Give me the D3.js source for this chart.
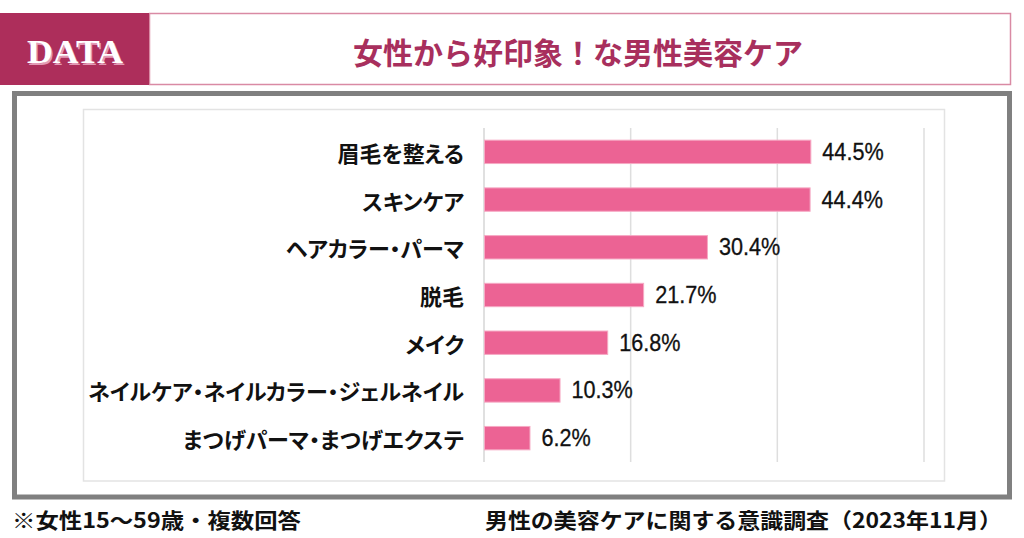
<!DOCTYPE html>
<html>
<head>
<meta charset="utf-8">
<script src="https://cdn.jsdelivr.net/npm/d3@7"></script>
<style>
  body { margin: 0; background: #fff; }
  svg { display: block; }
</style>
</head>
<body>
<script>
const categories = [
  '眉毛を整える',
  'スキンケア',
  'ヘアカラー・パーマ',
  '脱毛',
  'メイク',
  'ネイルケア・ネイルカラー・ジェルネイル',
  'まつげパーマ・まつげエクステ'
];
const values = [44.5, 44.4, 30.4, 21.7, 16.8, 10.3, 6.2];
const gridTicks = [0, 20, 40, 60];

const titleText = '女性から好印象！な男性美容ケア';
const noteText = '※女性15～59歳・複数回答';
const sourceText = '男性の美容ケアに関する意識調査（2023年11月）';

const jp = '"Noto Sans CJK JP", "Noto Sans", sans-serif';

const svg = d3.select('body').append('svg')
  .attr('width', 1024)
  .attr('height', 538);

// header
svg.append('rect')
  .attr('x', 149.5).attr('y', 13.5)
  .attr('width', 861).attr('height', 71)
  .attr('fill', '#fff')
  .attr('stroke', '#d98aa4')
  .attr('stroke-width', 1.5);

svg.append('rect')
  .attr('x', 0).attr('y', 13)
  .attr('width', 149).attr('height', 72)
  .attr('fill', '#ad2e5b');

svg.append('text')
  .text('DATA')
  .attr('x', 28.5).attr('y', 64.5)
  .attr('textLength', 96)
  .attr('lengthAdjust', 'spacingAndGlyphs')
  .style('font-family', '"Liberation Serif", serif')
  .style('font-weight', 'bold')
  .style('font-size', '34px')
  .attr('fill', '#e39ab5');

svg.append('text')
  .text('DATA')
  .attr('x', 27).attr('y', 63)
  .attr('textLength', 96)
  .attr('lengthAdjust', 'spacingAndGlyphs')
  .style('font-family', '"Liberation Serif", serif')
  .style('font-weight', 'bold')
  .style('font-size', '34px')
  .attr('fill', '#fff');

svg.append('text')
  .text(titleText)
  .attr('x', 578).attr('y', 51)
  .attr('text-anchor', 'middle')
  .attr('dominant-baseline', 'central')
  .style('font-family', jp)
  .style('font-weight', 'bold')
  .style('font-size', '30px')
  .attr('fill', '#a82f5d');

// outer frame
svg.append('rect')
  .attr('x', 14.5).attr('y', 93.5)
  .attr('width', 995).attr('height', 403.5)
  .attr('fill', '#fff')
  .attr('stroke', '#808080')
  .attr('stroke-width', 5);

// chart area
svg.append('rect')
  .attr('x', 83.5).attr('y', 109.5)
  .attr('width', 861).attr('height', 371.5)
  .attr('fill', '#fff')
  .attr('stroke', '#e3e3e3')
  .attr('stroke-width', 1.5);

const x = d3.scaleLinear().domain([0, 60]).range([484, 924]);
const y = d3.scaleBand().domain(categories).range([128, 462]).paddingInner(0.51).paddingOuter(0.255);

const grid = svg.append('g');
grid.selectAll('line')
  .data(gridTicks)
  .enter()
  .append('line')
  .attr('x1', d => x(d)).attr('x2', d => x(d))
  .attr('y1', 128).attr('y2', 462)
  .attr('stroke', d => d === 0 ? '#d6d6d6' : '#dedede')
  .attr('stroke-width', 1.5);

svg.selectAll('rect.bar')
  .data(values)
  .enter()
  .append('rect')
  .attr('class', 'bar')
  .attr('x', x(0) + 0.5)
  .attr('y', (d, i) => y(categories[i]))
  .attr('width', d => x(d) - x(0))
  .attr('height', y.bandwidth())
  .attr('fill', '#ec6394')
  .attr('stroke', '#f6a9c4')
  .attr('stroke-width', 1);

svg.selectAll('text.val')
  .data(values)
  .enter()
  .append('text')
  .attr('class', 'val')
  .text(d => d.toFixed(1) + '%')
  .attr('x', d => x(d) + 12)
  .attr('y', (d, i) => y(categories[i]) + y.bandwidth() / 2)
  .attr('dominant-baseline', 'central')
  .style('font-family', '"Liberation Sans", Arial, sans-serif')
  .style('font-size', '23.5px')
  .attr('fill', '#111')
  .attr('stroke', '#111')
  .attr('stroke-width', 0.3)
  .each(function() {
    // the original digits are a bit narrower than Arial
    const w = this.getComputedTextLength();
    d3.select(this).attr('textLength', w * 0.92).attr('lengthAdjust', 'spacingAndGlyphs');
  });

svg.selectAll('text.cat')
  .data(categories)
  .enter()
  .append('text')
  .attr('class', 'cat')
  .text(d => d)
  .attr('x', 464)
  .attr('y', d => y(d) + y.bandwidth() / 2)
  .attr('text-anchor', 'end')
  .attr('dominant-baseline', 'central')
  .style('font-family', jp)
  .style('font-weight', 'bold')
  .style('font-size', '22px')
  .style('font-feature-settings', '"palt"')
  .attr('fill', '#111');

// footer
svg.append('text')
  .text(noteText)
  .attr('x', 12).attr('y', 519)
  .attr('textLength', 289)
  .attr('lengthAdjust', 'spacingAndGlyphs')
  .attr('dominant-baseline', 'central')
  .style('font-family', jp)
  .style('font-weight', 'bold')
  .style('font-size', '21px')
  .attr('fill', '#111');

svg.append('text')
  .text(sourceText)
  .attr('x', 485).attr('y', 519)
  .attr('textLength', 517)
  .attr('lengthAdjust', 'spacingAndGlyphs')
  .attr('dominant-baseline', 'central')
  .style('font-family', jp)
  .style('font-weight', 'bold')
  .style('font-size', '21px')
  .attr('fill', '#111');
</script>
</body>
</html>
